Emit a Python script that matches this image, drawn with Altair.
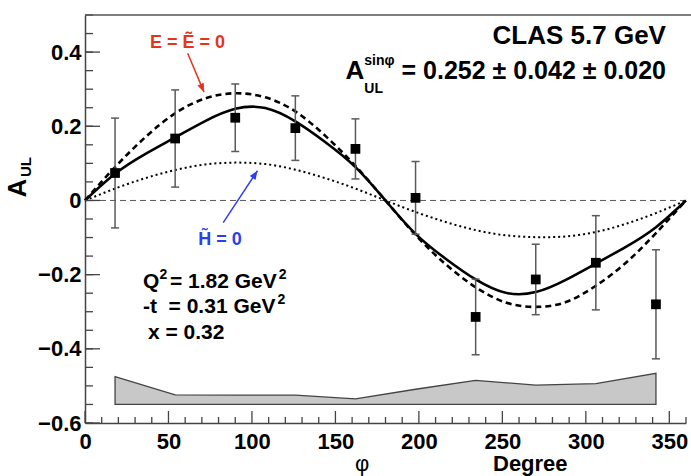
import math
import altair as alt
import pandas as pd

# ---------------- data ----------------
phi = [18, 54, 90, 126, 162, 198, 234, 270, 306, 342]
a_ul = [0.074, 0.167, 0.223, 0.195, 0.139, 0.007, -0.314, -0.213, -0.168, -0.280]
a_err = [0.148, 0.131, 0.091, 0.087, 0.081, 0.098, 0.102, 0.095, 0.127, 0.147]

sys_top = [-0.475, -0.524, -0.525, -0.525, -0.535, -0.509, -0.485, -0.498, -0.494, -0.466]
sys_base = -0.55

curve_phi = [0, 18, 36, 54, 72, 90, 108, 126, 144, 162, 180,
             198, 216, 234, 252, 270, 288, 306, 324, 342, 360]
full_model = [0.0, 0.072, 0.125, 0.170, 0.214, 0.247, 0.249, 0.213, 0.157, 0.090, 0.0,
              -0.090, -0.157, -0.213, -0.249, -0.247, -0.214, -0.170, -0.125, -0.072, 0.0]
e_zero_model = [0.0, 0.090, 0.170, 0.235, 0.275, 0.289, 0.278, 0.240, 0.174, 0.093, 0.0,
                -0.093, -0.172, -0.234, -0.275, -0.287, -0.274, -0.230, -0.168, -0.088, 0.0]
h_zero_model = [0.0, 0.032, 0.060, 0.082, 0.097, 0.102, 0.098, 0.083, 0.060, 0.032, 0.0,
                -0.031, -0.058, -0.080, -0.094, -0.099, -0.097, -0.085, -0.063, -0.034, 0.0]

x_major = [0, 50, 100, 150, 200, 250, 300, 350]
x_minor = [v for v in range(0, 361, 10) if v % 50 != 0]
y_major = [-0.6, -0.4, -0.2, 0.0, 0.2, 0.4]
y_minor = [round(-0.6 + 0.05 * i, 2) for i in range(23)]

# annotation anchors (data coordinates)
e_arrow = [61.5, 0.397, 71.3, 0.292]
h_arrow = [82.8, -0.060, 103.3, 0.080]

# ---------------- layout ----------------
W, H = 601, 408
XDOM = [0, 360]
YDOM = [-0.6, 0.5]
FONT = "Liberation Sans"
RED = "#e5341c"
BLUE = "#2b3ff0"
GREY = "#5a5a5a"

xs = alt.Scale(domain=XDOM, nice=False, zero=False)
ys = alt.Scale(domain=YDOM, nice=False, zero=False)

pts = pd.DataFrame({"phi": phi, "a": a_ul, "err": a_err})
pts["hi"] = pts["a"] + pts["err"]
pts["lo"] = pts["a"] - pts["err"]
sysdf = pd.DataFrame({"phi": phi, "top": sys_top, "base": [sys_base] * len(phi)})
cur = pd.DataFrame({"phi": curve_phi, "full": full_model, "ez": e_zero_model, "hz": h_zero_model})

X = lambda f: alt.X(f, type="quantitative", scale=xs,
                    axis=alt.Axis(values=x_major, title=None, grid=False, ticks=False, tickSize=0,
                                  labelFont=FONT, labelFontSize=22, labelFontWeight="bold",
                                  labelColor="black", labelPadding=8, domainColor="#444",
                                  domainWidth=1.5, labelFlush=False))
Y = lambda f: alt.Y(f, type="quantitative", scale=ys,
                    axis=alt.Axis(values=y_major, title=None, grid=False, ticks=False, tickSize=0,
                                  labelFont=FONT, labelFontSize=22, labelFontWeight="bold",
                                  labelColor="black", labelPadding=4, domainColor="#444",
                                  domainWidth=1.5, labelFlush=False,
                                  labelExpr="datum.value == 0 ? '0' : format(datum.value, '.1f')"))

layers = []

# systematic band
layers.append(alt.Chart(sysdf).mark_area(color="#c8c8c8", stroke="#444", strokeWidth=1.3,
                                         interpolate="linear").encode(
    x=X("phi"), y=Y("top"), y2="base"))

# zero line
layers.append(alt.Chart(pd.DataFrame({"z": [0.0]})).mark_rule(
    color=GREY, strokeWidth=1, strokeDash=[6, 4]).encode(y=Y("z")))

# model curves
layers.append(alt.Chart(cur).mark_line(color="black", strokeWidth=2.0, strokeDash=[2, 3],
                                       interpolate="natural").encode(x=X("phi"), y=Y("hz")))
layers.append(alt.Chart(cur).mark_line(color="black", strokeWidth=2.6, strokeDash=[6, 4],
                                       interpolate="natural").encode(x=X("phi"), y=Y("ez")))
layers.append(alt.Chart(cur).mark_line(color="black", strokeWidth=2.6,
                                       interpolate="natural").encode(x=X("phi"), y=Y("full")))

# error bars
layers.append(alt.Chart(pts).mark_rule(color=GREY, strokeWidth=1.5).encode(
    x=X("phi"), y=Y("lo"), y2="hi"))
for f in ["lo", "hi"]:
    layers.append(alt.Chart(pts).mark_point(shape="M-1,0L1,0", size=64, color=GREY,
                                            strokeWidth=1.5, filled=False, opacity=1).encode(
        x=X("phi"), y=Y(f)))
layers.append(alt.Chart(pts).mark_point(shape="square", size=95, color="black", filled=True,
                                        opacity=1).encode(x=X("phi"), y=Y("a")))

# ticks (inside)
def ytick(vals, length):
    return alt.Chart(pd.DataFrame({"v": vals})).mark_rule(color="#444", strokeWidth=1.3).encode(
        y=Y("v"), x=alt.value(0), x2=alt.value(length))

def xtick(vals, length):
    return alt.Chart(pd.DataFrame({"v": vals})).mark_rule(color="#444", strokeWidth=1.3).encode(
        x=X("v"), y=alt.value(H), y2=alt.value(H - length))

layers += [ytick(y_minor, 8), ytick(y_major, 15), xtick(x_minor, 6), xtick(x_major, 12)]

# top frame line
layers.append(alt.Chart(pd.DataFrame({"a": [0]})).mark_rule(color="#555", strokeWidth=1.5).encode(
    x=alt.value(0), x2=alt.value(W + 5), y=alt.value(0)))

# arrows
def arrow(vals, color):
    x1, y1, x2, y2 = vals
    dxp = (x2 - x1) * W / (XDOM[1] - XDOM[0])
    dyp = -(y2 - y1) * H / (YDOM[1] - YDOM[0])
    ang = math.degrees(math.atan2(dxp, -dyp)) % 360
    df = pd.DataFrame({"x1": [x1], "y1": [y1], "x2": [x2], "y2": [y2]})
    line = alt.Chart(df).mark_rule(color=color, strokeWidth=1.5).encode(
        x=X("x1"), y=Y("y1"), x2="x2", y2="y2")
    head = alt.Chart(df).mark_point(shape="M0,0L-0.4,1L0.4,1Z", size=300, angle=ang,
                                    color=color, filled=True, opacity=1).encode(
        x=X("x2"), y=Y("y2"))
    return [line, head]

layers += arrow(e_arrow, RED)
layers += arrow(h_arrow, BLUE)

# texts in data coordinates
def dtext(txt, x, y, size, color="black", align="left", weight="bold", baseline="alphabetic"):
    df = pd.DataFrame({"x": [x], "y": [y], "t": [txt]})
    return alt.Chart(df).mark_text(font=FONT, fontSize=size, fontWeight=weight, color=color,
                                   align=align, baseline=baseline).encode(
        x=X("x"), y=Y("y"), text="t:N")

NB = "\u00a0"
layers += [
    dtext("E = Ẽ = 0", 61.4, 0.411, 18, RED, align="center"),
    dtext("H\u0303 = 0", 80.9, -0.120, 18, BLUE, align="center"),
    dtext("Q", 34.7, -0.236, 21),
    dtext("2", 44.6, -0.2117, 14),
    dtext("= 1.82 GeV", 50.9, -0.236, 21),
    dtext("2", 116.0, -0.2117, 14),
    dtext("-t" + NB + NB + "= 0.31 GeV", 34.7, -0.3033, 21),
    dtext("2", 115.3, -0.279, 14),
    dtext("x = 0.32", 37.7, -0.3734, 21),
    dtext("CLAS 5.7 GeV", 348, 0.422, 26, align="right"),
    dtext("A", 156.0, 0.3276, 26),
    dtext("sinφ", 167.3, 0.365, 14),
    dtext("UL", 167.3, 0.290, 14),
    dtext("= 0.252 ± 0.042 ± 0.020", 348, 0.3276, 25, align="right"),
]

# axis titles (pixel positions outside the plot area)
def ptext(txt, px, py, size, weight="bold", angle=0, align="left", baseline="alphabetic"):
    df = pd.DataFrame({"t": [txt]})
    return alt.Chart(df).mark_text(font=FONT, fontSize=size, fontWeight=weight, color="black",
                                   align=align, baseline=baseline, angle=angle).encode(
        x=alt.value(px), y=alt.value(py), text="t:N")

layers += [
    ptext("φ", 277, 456, 22, weight="normal", align="center"),
    ptext("Degree", 408, 456, 22),
    ptext("A", -59, 173, 26, angle=270, align="center"),
    ptext("UL", -54, 152, 15, angle=270, align="center"),
]

chart = alt.layer(*layers).properties(
    width=W, height=H,
    autosize=alt.AutoSizeParams(type="none"),
    padding={"left": 85, "top": 15, "right": 5, "bottom": 53},
    background="white",
).configure_view(stroke=None)

chart.save("out.html", embed_options={"renderer": "svg", "actions": False})
